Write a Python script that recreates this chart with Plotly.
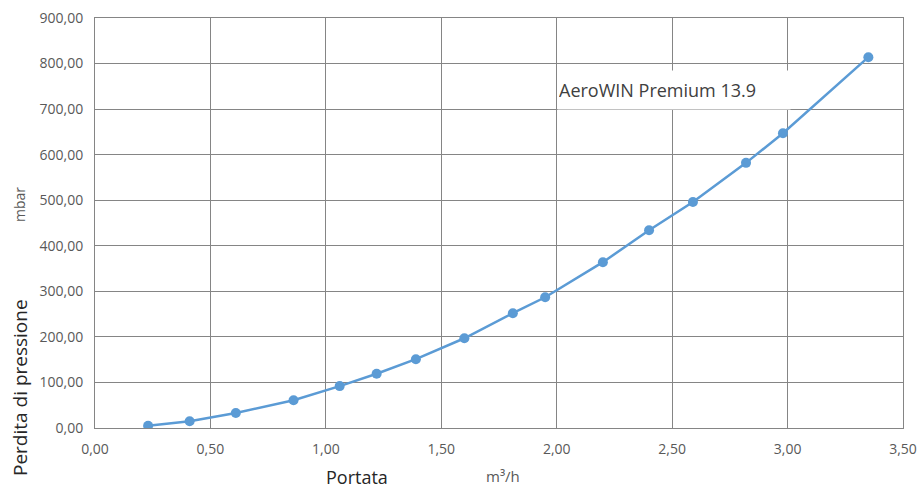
import plotly.graph_objects as go

portata = [0.23, 0.41, 0.61, 0.86, 1.06, 1.22, 1.39, 1.60, 1.81, 1.95, 2.20, 2.40, 2.59, 2.82, 2.98, 3.35]
perdita = [5, 15, 33, 61, 92, 119, 151, 197, 252, 287, 364, 434, 496, 582, 647, 814]

x_ticks = [0, 0.5, 1.0, 1.5, 2.0, 2.5, 3.0, 3.5]
x_labels = ["0,00", "0,50", "1,00", "1,50", "2,00", "2,50", "3,00", "3,50"]
y_ticks = [0, 100, 200, 300, 400, 500, 600, 700, 800, 900]
y_labels = ["0,00", "100,00", "200,00", "300,00", "400,00", "500,00", "600,00", "700,00", "800,00", "900,00"]

font_family = "Open Sans, Noto Sans, sans-serif"
grid_color = "#858585"
tick_color = "#595959"

L, R, T, B = 95, 17, 18, 62
W, H = 920, 490
pw = W - L - R
ph = H - T - B


def px_x(p):
    return (p - L) / pw


def px_y(p):
    return (H - B - p) / ph


fig = go.Figure()
fig.add_trace(go.Scatter(
    x=portata, y=perdita, mode="lines+markers",
    line=dict(color="#5B9BD5", width=2.5),
    marker=dict(color="#5B9BD5", size=10),
    showlegend=False,
))

fig.update_layout(
    width=W, height=H,
    margin=dict(l=L, r=R, t=T, b=B),
    paper_bgcolor="white", plot_bgcolor="white",
    font=dict(family=font_family, color=tick_color, size=14),
    xaxis=dict(
        range=[0, 3.5], tickvals=x_ticks, ticktext=x_labels, automargin=False,
        showgrid=True, gridcolor=grid_color, gridwidth=1,
        showline=True, linecolor=grid_color, linewidth=1, mirror=True,
        zeroline=False, ticks="", ticklabelstandoff=8,
        tickfont=dict(size=14, color=tick_color),
    ),
    yaxis=dict(
        range=[0, 900], tickvals=y_ticks, ticktext=y_labels, automargin=False,
        showgrid=True, gridcolor=grid_color, gridwidth=1,
        showline=True, linecolor=grid_color, linewidth=1, mirror=True,
        zeroline=False, ticks="", ticklabelstandoff=8,
        tickfont=dict(size=14, color=tick_color),
    ),
    annotations=[
        dict(text="AeroWIN Premium 13.9", x=px_x(557), y=px_y(89.5), xref="paper", yref="paper",
             xanchor="left", yanchor="middle", showarrow=False, align="left",
             width=230, height=36, borderpad=1,
             font=dict(size=18, color="#404040", family=font_family),
             bgcolor="white"),
        dict(text="Perdita di pressione", x=px_x(20), y=px_y(388), xref="paper", yref="paper",
             xanchor="center", yanchor="middle",
             showarrow=False, textangle=-90,
             font=dict(size=19, color="#262626", family=font_family)),
        dict(text="mbar", x=px_x(20), y=px_y(205), xref="paper", yref="paper",
             xanchor="center", yanchor="middle",
             showarrow=False, textangle=-90,
             font=dict(size=14, color=tick_color, family=font_family)),
        dict(text="Portata", x=px_x(357), y=px_y(477), xref="paper", yref="paper",
             xanchor="center", yanchor="middle",
             showarrow=False, font=dict(size=18, color="#262626", family=font_family)),
        dict(text="m³/h", x=px_x(503), y=px_y(476), xref="paper", yref="paper",
             xanchor="center", yanchor="middle",
             showarrow=False, font=dict(size=15, color=tick_color, family=font_family)),
    ],
)

fig.write_html(
    "out.html",
    config={"displayModeBar": False},
    post_script="document.body.style.margin='0';document.body.style.overflow='hidden';",
)
